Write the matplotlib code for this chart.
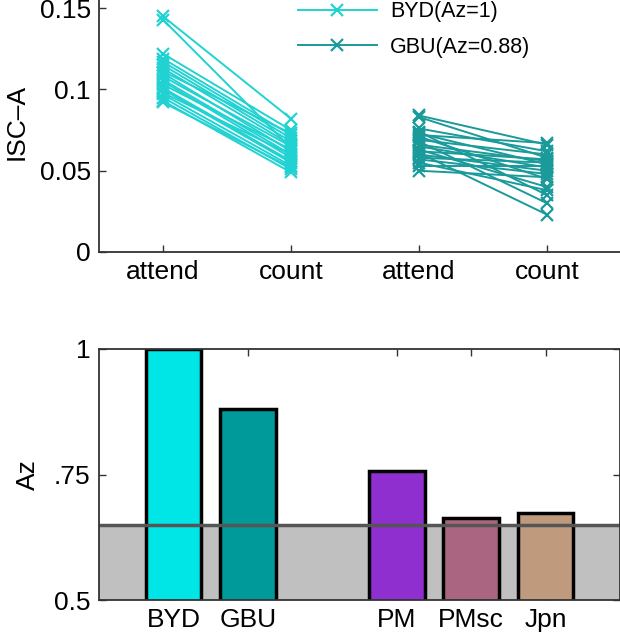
import matplotlib
matplotlib.use('Agg')
import matplotlib.pyplot as plt

plt.rcParams['font.family'] = ['Liberation Sans', 'DejaVu Sans']

# top panel: ISC per subject, attend vs count
conditions = ['attend', 'count', 'attend', 'count']
byd_attend = [0.145, 0.143, 0.122, 0.119, 0.117, 0.115, 0.113, 0.111, 0.110, 0.108,
              0.106, 0.105, 0.103, 0.101, 0.100, 0.098, 0.097, 0.095, 0.093, 0.092]
byd_count = [0.082, 0.064, 0.075, 0.072, 0.070, 0.068, 0.066, 0.073, 0.062, 0.065,
             0.060, 0.058, 0.063, 0.056, 0.055, 0.060, 0.053, 0.051, 0.049, 0.052]
gbu_attend = [0.084, 0.083, 0.076, 0.074, 0.073, 0.072, 0.071, 0.069, 0.068, 0.066,
              0.065, 0.063, 0.062, 0.061, 0.060, 0.058, 0.057, 0.055, 0.053, 0.050]
gbu_count = [0.066, 0.058, 0.062, 0.035, 0.054, 0.067, 0.045, 0.060, 0.030, 0.056,
             0.052, 0.040, 0.057, 0.023, 0.050, 0.055, 0.048, 0.038, 0.053, 0.046]

# bottom panel: Az per stimulus
stimuli = ['BYD', 'GBU', 'PM', 'PMsc', 'Jpn']
stim_pos = [1, 2, 4, 5, 6]
az = [1.0, 0.88, 0.756, 0.664, 0.674]
chance = 0.65

BYD_LINE = '#22d2d2'
GBU_LINE = '#1a9a9a'
bar_colors = ['#00e5e5', '#009a9a', '#8f2fcf', '#aa6680', '#c09a7c']
AXC = '#333333'
FS = 19

fig = plt.figure(figsize=(6.2, 6.39), dpi=100)

# ---- top panel ----
ax1 = fig.add_axes([99 / 620, 1 - 252 / 639, 521 / 620, 260 / 639])
for i, (a, c) in enumerate(zip(byd_attend, byd_count)):
    ax1.plot([1, 2], [a, c], color=BYD_LINE, lw=1.4, marker='x', ms=9, mew=1.6,
             label='BYD(Az=1)' if i == 0 else None)
for i, (a, c) in enumerate(zip(gbu_attend, gbu_count)):
    ax1.plot([3, 4], [a, c], color=GBU_LINE, lw=1.4, marker='x', ms=9, mew=1.6,
             label='GBU(Az=0.88)' if i == 0 else None)
ax1.set_xlim(0.5, 4.57)
ax1.set_ylim(0, 0.16)
ax1.set_xticks([1, 2, 3, 4])
ax1.set_xticklabels(conditions)
ax1.set_yticks([0, 0.05, 0.1, 0.15])
ax1.set_yticklabels(['0', '0.05', '0.1', '0.15'])
ax1.spines['top'].set_visible(False)
ax1.spines['right'].set_visible(False)
for s in ['left', 'bottom']:
    ax1.spines[s].set_color(AXC)
    ax1.spines[s].set_linewidth(1.3)
ax1.tick_params(direction='in', length=5, width=1, color=AXC, labelsize=FS, pad=6)
ax1.set_ylabel('ISC\u2013A', fontsize=FS, labelpad=8)
ax1.legend(loc='upper left', bbox_to_anchor=(0.344, 1.038), frameon=False,
           fontsize=15.5, handlelength=3.7, handletextpad=0.6, labelspacing=0.67)

# ---- bottom panel ----
ax2 = fig.add_axes([99 / 620, 1 - 600 / 639, 521 / 620, 251 / 639])
ax2.axhspan(0.5, chance, color='#c0c0c0', zorder=0, lw=0)
ax2.bar(stim_pos, az, width=0.75, color=bar_colors, edgecolor='black', linewidth=2.5,
        zorder=2)
ax2.axhline(chance, color='#555555', lw=2.5, zorder=3)
ax2.set_xlim(0, 7)
ax2.set_ylim(0.5, 1)
ax2.set_xticks(stim_pos)
ax2.set_xticklabels(stimuli)
ax2.set_yticks([0.5, 0.75, 1])
ax2.set_yticklabels(['0.5', '.75', '1'])
for s in ax2.spines.values():
    s.set_color(AXC)
    s.set_linewidth(1.3)
    s.set_zorder(4)
ax2.tick_params(direction='in', length=5, width=1, color=AXC, labelsize=FS, pad=6,
                top=True, right=True)
ax2.set_ylabel('Az', fontsize=FS, labelpad=10)

fig.savefig('out.png', dpi=100)
